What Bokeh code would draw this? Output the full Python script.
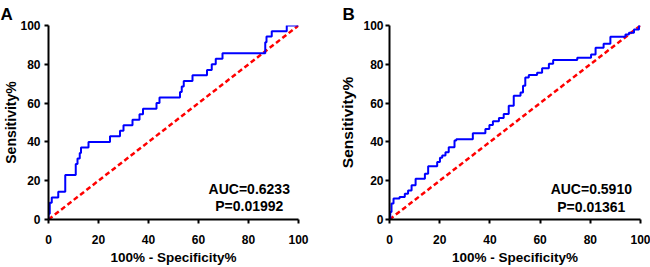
import numpy as np
from bokeh.plotting import figure
from bokeh.layouts import row
from bokeh.models import Range1d, Label, FixedTicker
from bokeh.embed import file_html
from bokeh.resources import INLINE

# ---- data ----
ticks = [0, 20, 40, 60, 80, 100]
chance_x = [0, 100]
chance_y = [0, 100]

a_fpr = [0, 0, 0.5, 1.3, 3.9, 6.7, 10.9, 11.6, 12.5, 13.0, 16.0, 24.6, 28.6, 30.0,
         33.6, 36.4, 37.8, 43.2, 44.4, 52.6, 53.3, 54.1, 57.6, 63.4, 65.3, 66.9,
         69.6, 86.7, 87.2, 89.3, 95.3, 100]
a_tpr = [0, 2.9, 8.6, 11.4, 14.3, 22.9, 28.6, 31.4, 34.3, 37.1, 40.0, 42.9, 45.7,
         48.6, 51.4, 54.3, 57.1, 60.0, 62.9, 65.7, 68.6, 71.4, 74.3, 77.1, 80.0,
         82.9, 85.7, 91.4, 94.3, 97.1, 100, 100]

b_fpr = [0, 0.3, 0.8, 1.6, 4.0, 6.1, 7.4, 8.8, 10.4, 14.1, 15.4, 19.0, 20.1, 21.0,
         22.3, 23.6, 25.9, 26.6, 33.2, 38.2, 39.8, 41.2, 43.6, 45.5, 47.5, 49.5,
         52.2, 53.2, 54.1, 55.5, 58.8, 60.8, 63.5, 65.2, 74.8, 80.3, 82.1, 85.3,
         88.0, 94.0, 95.4, 97.4, 99.4, 100]
b_tpr = [0, 3.9, 8.2, 10.8, 11.6, 13.3, 15.0, 17.6, 21.0, 23.6, 27.4, 29.6, 31.8,
         33.0, 34.7, 37.3, 40.7, 41.4, 44.4, 46.7, 48.7, 50.6, 52.3, 54.4, 58.6,
         63.8, 65.5, 68.9, 73.2, 74.5, 75.7, 77.9, 80.3, 82.2, 83.4, 85.1, 88.5,
         90.6, 94.2, 95.4, 96.2, 98.0, 100, 100]

a_stats = ["AUC=0.6233", "P=0.01992"]
b_stats = ["AUC=0.5910", "P=0.01361"]
letters = ["A", "B"]
x_title = "100% - Specificity%"
y_title = "Sensitivity%"

FONT = "Liberation Sans"


def step_path(x, y):
    xs, ys = [x[0]], [y[0]]
    for i in range(1, len(x)):
        xs += [x[i], x[i]]
        ys += [y[i - 1], y[i]]
    return xs, ys


def make_panel(fpr, tpr, stats, letter, width, left, right, top, bottom,
               stat_x, stat_y1, stat_y2, letter_off, ylab_size, y_s1, y_s2):
    p = figure(width=width, height=267, output_backend="svg", toolbar_location=None,
               x_range=Range1d(0, 100), y_range=Range1d(0, 100),
               min_border_left=left, min_border_right=right,
               min_border_top=top, min_border_bottom=bottom)
    p.outline_line_color = None
    p.grid.visible = False
    p.background_fill_color = "white"
    p.border_fill_color = "white"
    for ax in (p.xaxis[0], p.yaxis[0]):
        ax.ticker = FixedTicker(ticks=ticks)
        ax.axis_line_width = 2
        ax.axis_line_color = "black"
        ax.major_tick_line_width = 2
        ax.major_tick_line_color = "black"
        ax.major_tick_out = 4
        ax.major_tick_in = 0
        ax.minor_tick_line_color = None
        ax.major_label_text_font = FONT
        ax.major_label_text_font_style = "bold"
        ax.major_label_text_font_size = "12px"
        ax.major_label_text_color = "black"
        ax.axis_label_text_font = FONT
        ax.axis_label_text_font_style = "bold"
        ax.axis_label_text_color = "black"
    p.xaxis.axis_label = x_title
    p.yaxis.axis_label = y_title
    p.xaxis.axis_label_text_font_size = "13.5px"
    p.yaxis.axis_label_text_font_size = ylab_size
    p.yaxis.major_label_standoff = y_s1
    p.yaxis.axis_label_standoff = y_s2
    p.xaxis.major_label_standoff = 11
    p.xaxis.axis_label_standoff = 3

    p.title.text = letter
    p.title.align = "left"
    p.title.vertical_align = "top"
    p.title.offset = letter_off
    p.title.standoff = 0
    p.title.text_font = FONT
    p.title.text_font_style = "bold"
    p.title.text_font_size = "17px"
    p.title.text_color = "black"

    p.line(chance_x, chance_y, line_color="#ff0000", line_width=2.5, line_dash="5 3")
    xs, ys = step_path(fpr, tpr)
    p.line(xs, ys, line_color="#0000ff", line_width=2)

    for s, yy in zip(stats, (stat_y1, stat_y2)):
        p.add_layout(Label(x=stat_x, y=yy, text=s, text_align="center",
                           text_baseline="alphabetic", text_font=FONT,
                           text_font_style="bold", text_font_size="14px",
                           text_color="black"))
    return p


pA = make_panel(a_fpr, a_tpr, a_stats, letters[0], 325, 48, 27, 25, 46,
                80.3, 15.7, 7.0, -48, "14px", 4, -2)
pB = make_panel(b_fpr, b_tpr, b_stats, letters[1], 325, 64, 10, 24, 48,
                80.4, 15.9, 6.5, -47, "15.5px", 2, 4)

layout = row(pA, pB, spacing=0)
open("out.html", "w").write(file_html(layout, INLINE))
